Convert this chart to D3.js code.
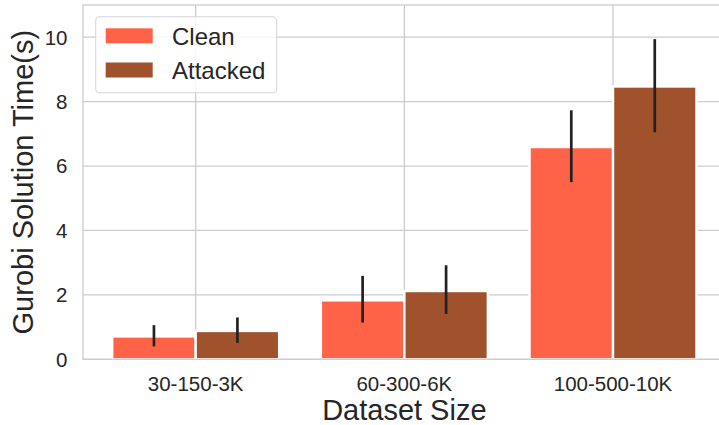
<!DOCTYPE html>
<html>
<head>
<meta charset="utf-8">
<script src="https://cdn.jsdelivr.net/npm/d3@7"></script>
<style>
  html, body { margin: 0; padding: 0; background: #fff; }
  svg { display: block; }
  text { font-family: "Liberation Sans", Arial, "DejaVu Sans", sans-serif; fill: #262626; }
</style>
</head>
<body>
<svg id="chart" width="719" height="425"></svg>
<script>
// ---- data ----
const categories = ["30-150-3K", "60-300-6K", "100-500-10K"];
const seriesNames = ["Clean", "Attacked"];
const seriesColors = ["#FF6347", "#A0522D"];
const cleanValues = [0.71, 1.83, 6.59];
const cleanLow = [0.40, 1.14, 5.50];
const cleanHigh = [1.06, 2.59, 7.73];
const attackedValues = [0.88, 2.12, 8.47];
const attackedLow = [0.51, 1.41, 7.05];
const attackedHigh = [1.30, 2.92, 9.94];
const yTicks = [0, 2, 4, 6, 8, 10];
const xLabel = "Dataset Size";
const yLabel = "Gurobi Solution Time(s)";

(function () {
// ---- layout ----
const plotL = 83, plotR = 725.7, plotT = 5, plotB = 359.3;
const svg = d3.select("#chart");

const x = d3.scaleLinear().domain([-0.54, 2.54]).range([plotL, plotR]);
const y = d3.scaleLinear().domain([0, 11]).range([plotB, plotT]);
const barW = 0.4;
const gridColor = "#cccccc";

// grid
const g = svg.append("g");
g.selectAll("line.hg").data(yTicks).enter().append("line")
  .attr("x1", plotL).attr("x2", plotR)
  .attr("y1", d => y(d)).attr("y2", d => y(d))
  .attr("stroke", gridColor).attr("stroke-width", 1.3);
g.selectAll("line.vg").data(categories).enter().append("line")
  .attr("x1", (d, i) => x(i)).attr("x2", (d, i) => x(i))
  .attr("y1", plotT).attr("y2", plotB)
  .attr("stroke", gridColor).attr("stroke-width", 1.3);

// bars
const series = [
  { name: seriesNames[0], color: seriesColors[0], v: cleanValues, lo: cleanLow, hi: cleanHigh, off: -barW },
  { name: seriesNames[1], color: seriesColors[1], v: attackedValues, lo: attackedLow, hi: attackedHigh, off: 0 }
];
series.forEach(s => {
  svg.append("g").selectAll("rect").data(s.v).enter().append("rect")
    .attr("x", (d, i) => x(i + s.off))
    .attr("width", x(barW) - x(0))
    .attr("y", d => y(d))
    .attr("height", d => y(0) - y(d))
    .attr("fill", s.color)
    .attr("stroke", "#ffffff").attr("stroke-width", 2.4);
});
// error bars
series.forEach(s => {
  svg.append("g").selectAll("line").data(s.v).enter().append("line")
    .attr("x1", (d, i) => x(i + s.off + barW / 2))
    .attr("x2", (d, i) => x(i + s.off + barW / 2))
    .attr("y1", (d, i) => y(s.lo[i]))
    .attr("y2", (d, i) => y(s.hi[i]))
    .attr("stroke", "#222222").attr("stroke-width", 2.7);
});

// spines
svg.append("rect").attr("x", plotL).attr("y", plotT)
  .attr("width", plotR - plotL).attr("height", plotB - plotT)
  .attr("fill", "none").attr("stroke", gridColor).attr("stroke-width", 1.3);

// tick labels
svg.append("g").selectAll("text").data(yTicks).enter().append("text")
  .attr("x", 67.5).attr("y", d => y(d)).attr("dy", "0.36em")
  .attr("text-anchor", "end").attr("font-size", 20.5)
  .text(d => d);
svg.append("g").selectAll("text").data(categories).enter().append("text")
  .attr("x", (d, i) => x(i)).attr("y", 390.5)
  .attr("text-anchor", "middle").attr("font-size", 20.5)
  .text(d => d);

// axis labels
svg.append("text").attr("x", (plotL + plotR) / 2).attr("y", 419.5)
  .attr("text-anchor", "middle").attr("font-size", 29).text(xLabel);
svg.append("text")
  .attr("transform", `translate(33,${(plotT + plotB) / 2}) rotate(-90)`)
  .attr("text-anchor", "middle").attr("font-size", 29).text(yLabel);

// legend
const lg = svg.append("g");
lg.append("rect").attr("x", 95.7).attr("y", 16.7).attr("width", 181).attr("height", 76)
  .attr("rx", 4).attr("fill", "#ffffff").attr("fill-opacity", 0.8)
  .attr("stroke", "#d6d6d6").attr("stroke-width", 1.1);
series.forEach((s, i) => {
  lg.append("rect").attr("x", 105.7).attr("y", 28.3 + i * 34.2)
    .attr("width", 47).attr("height", 15).attr("fill", s.color);
  lg.append("text").attr("x", 172).attr("y", 45 + i * 34)
    .attr("font-size", 24).text(s.name);
});
})();
</script>
</body>
</html>
